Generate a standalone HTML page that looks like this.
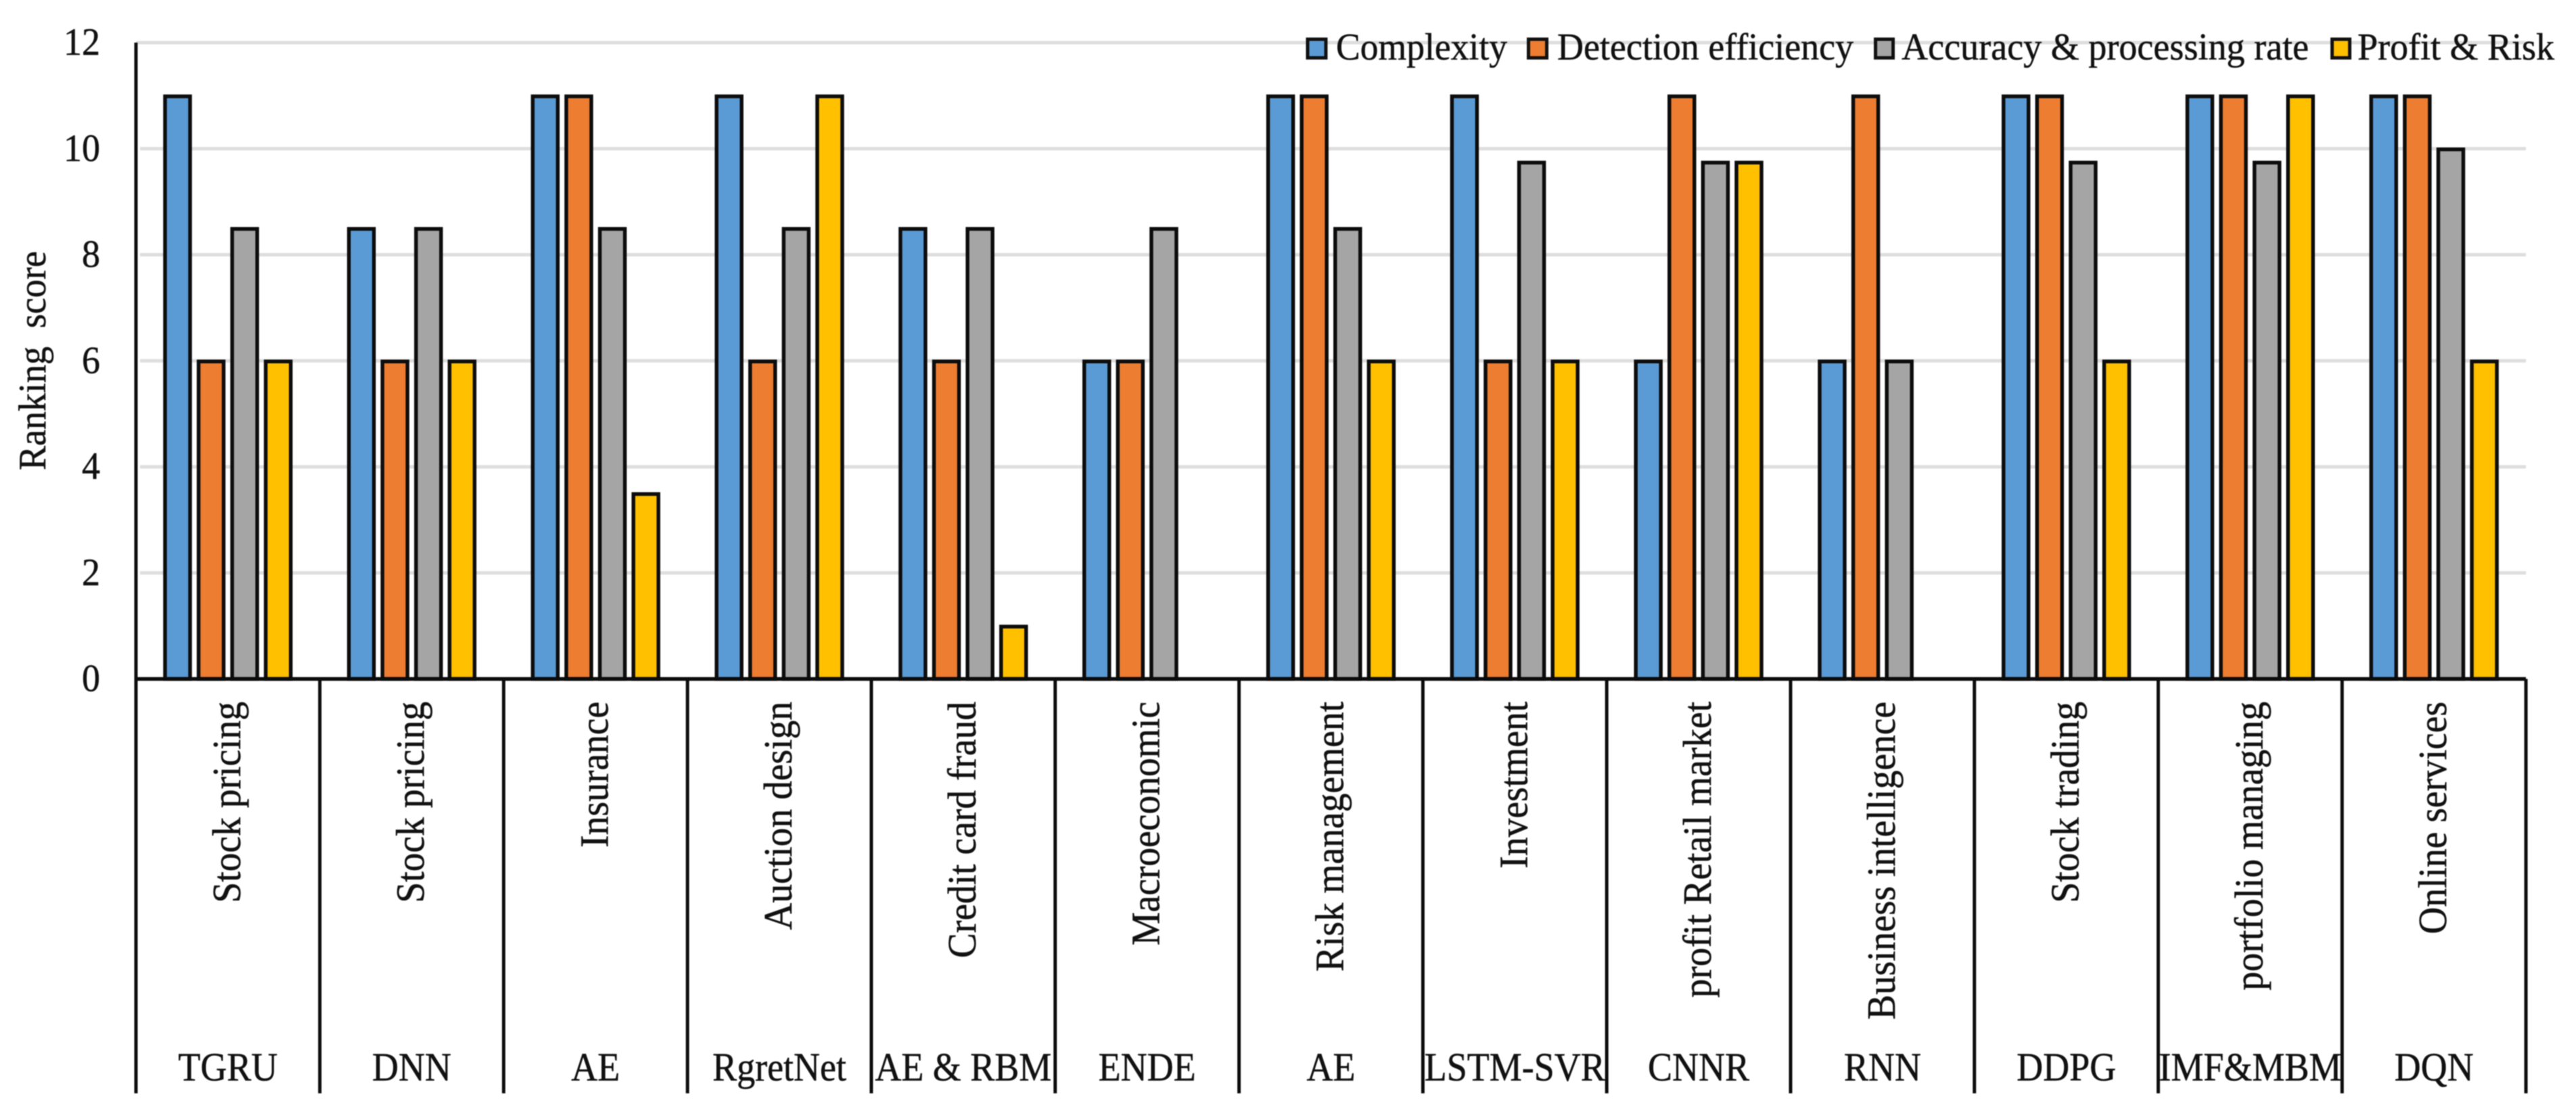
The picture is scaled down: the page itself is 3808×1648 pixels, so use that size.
<!DOCTYPE html>
<html lang="en">
<head>
<meta charset="utf-8">
<title>Ranking score chart</title>
<style>
html,body{margin:0;padding:0;background:#fff;width:3808px;height:1648px;overflow:hidden}
svg{display:block;filter:blur(0.9px)}
text{font-family:"Liberation Serif","Times New Roman",serif;fill:#111;stroke:#111;stroke-width:0.5px;white-space:pre}
</style>
</head>
<body>
<svg id="chart" xmlns="http://www.w3.org/2000/svg" width="3808" height="1648" viewBox="0 0 3808 1648">
  <rect x="0" y="0" width="3808" height="1648" fill="#ffffff"/>
  <g id="grid"></g>
  <g id="bars"></g>
  <g id="axes"></g>
  <g id="ticks"></g>
  <text transform="translate(67,695) rotate(-90) scale(1,1.06)" font-size="54">Ranking&#160;&#160;score</text>
  <g id="labels"></g>
  <g id="legend">
    <g>
      <rect x="1933" y="58" width="27" height="27.5" fill="#5B9BD5" stroke="#111" stroke-width="5"/>
      <text x="1975" y="88" font-size="56" textLength="253" lengthAdjust="spacingAndGlyphs">Complexity</text>
    </g>
    <g>
      <rect x="2259.5" y="58" width="27" height="27.5" fill="#ED7D31" stroke="#111" stroke-width="5"/>
      <text x="2302" y="88" font-size="56" textLength="438" lengthAdjust="spacingAndGlyphs">Detection efficiency</text>
    </g>
    <g>
      <rect x="2772.5" y="58" width="26" height="27.5" fill="#A5A5A5" stroke="#111" stroke-width="5"/>
      <text x="2811" y="88" font-size="56" textLength="602" lengthAdjust="spacingAndGlyphs">Accuracy &amp; processing rate</text>
    </g>
    <g>
      <rect x="3447.5" y="58" width="26" height="27.5" fill="#FFC000" stroke="#111" stroke-width="5"/>
      <text x="3485" y="88" font-size="56" textLength="291" lengthAdjust="spacingAndGlyphs">Profit &amp; Risk</text>
    </g>
  </g>
</svg>
<script>
const domains = ["Stock pricing","Stock pricing","Insurance","Auction design","Credit card fraud","Macroeconomic","Risk management","Investment","profit Retail market","Business intelligence","Stock trading","portfolio managing","Online services"];
const models = ["TGRU","DNN","AE","RgretNet","AE & RBM","ENDE","AE","LSTM-SVR","CNNR","RNN","DDPG","IMF&MBM","DQN"];
const complexity = [11,8.5,11,11,8.5,6,11,11,6,6,11,11,11];
const detectionEfficiency = [6,6,11,6,6,6,11,6,11,11,11,11,11];
const accuracyProcessingRate = [8.5,8.5,8.5,8.5,8.5,8.5,8.5,9.75,9.75,6,9.75,9.75,10];
const profitRisk = [6,6,3.5,11,1,0,6,6,9.75,0,6,11,6];
const yTicks = [0,2,4,6,8,10,12];

const NS = "http://www.w3.org/2000/svg";
const plotLeft = 201, plotRight = 3734, plotTop = 63, plotBottom = 1003.5, labelBottom = 1616;
const yMax = 12;
const seriesList = [
  {key:"complexity", color:"#5B9BD5", values:complexity},
  {key:"detection-efficiency", color:"#ED7D31", values:detectionEfficiency},
  {key:"accuracy-processing-rate", color:"#A5A5A5", values:accuracyProcessingRate},
  {key:"profit-risk", color:"#FFC000", values:profitRisk}
];
const catWidth = (plotRight - plotLeft) / domains.length;
const barPitch = 49.6, barWidth = 37;

function yScale(v){ return plotBottom - (v / yMax) * (plotBottom - plotTop); }
function catCenter(i){ return plotLeft + catWidth * (i + 0.5); }
function barX(i, s){ return catCenter(i) + (s - (seriesList.length - 1) / 2) * barPitch - barWidth / 2; }
function make(tag, attrs, parent){
  const el = document.createElementNS(NS, tag);
  for (const k in attrs) el.setAttribute(k, attrs[k]);
  parent.appendChild(el);
  return el;
}

const gridG = document.getElementById("grid");
yTicks.forEach(function(t){
  if (t === 0) return;
  const el = make("line", {x1: t === yMax ? plotLeft : 207, x2: plotRight, y1: yScale(t), y2: yScale(t), stroke:"#dedede", "stroke-width":5}, gridG);
  
  
});

const barsG = document.getElementById("bars");
seriesList.forEach(function(series, s){
  series.values.forEach(function(v, i){
    if (v <= 0) return;
    const el = make("rect", {x: barX(i, s), y: yScale(v) + 1, width: barWidth, height: plotBottom - yScale(v) - 1, fill: series.color, stroke:"#0c0c0c", "stroke-width":5.5}, barsG);
    
    
  });
});

const axesG = document.getElementById("axes");
const yAxis = make("line", {x1: plotLeft, x2: plotLeft, y1: plotTop, y2: labelBottom, stroke:"#0c0c0c", "stroke-width":5}, axesG);


const xAxis = make("line", {x1: plotLeft, x2: plotRight, y1: plotBottom, y2: plotBottom, stroke:"#0c0c0c", "stroke-width":5.5}, axesG);


domains.forEach(function(d, i){
  const x = plotLeft + catWidth * (i + 1);
  const el = make("line", {x1: x, x2: x, y1: plotBottom, y2: labelBottom, stroke:"#0c0c0c", "stroke-width":5}, axesG);
  
  
});

const ticksG = document.getElementById("ticks");
yTicks.forEach(function(t){
  const el = make("text", {transform: "translate(148," + (yScale(t) + 18) + ") scale(1,1.05)", "text-anchor":"end", "font-size":54}, ticksG);
  el.textContent = String(t);
  
  
});

const labelsG = document.getElementById("labels");
domains.forEach(function(d, i){
  const el = make("text", {transform: "translate(" + (catCenter(i) + 18) + ",1037) rotate(-90) scale(1,1.07)", "text-anchor":"end", "font-size":55.5}, labelsG);
  el.textContent = d;
  
  
});
models.forEach(function(m, i){
  const el = make("text", {transform: "translate(" + catCenter(i) + ",1597) scale(1,1.1)", "text-anchor":"middle", "font-size":54}, labelsG);
  el.textContent = m;
  
  
});
</script>
</body>
</html>
